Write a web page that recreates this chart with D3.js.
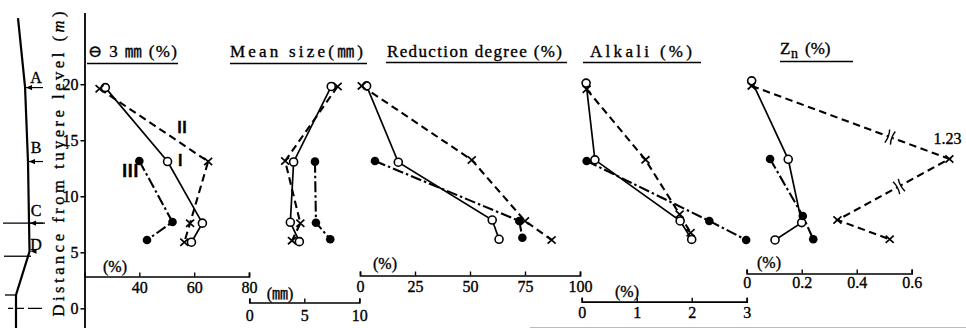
<!DOCTYPE html>
<html><head><meta charset="utf-8">
<script src="https://cdn.jsdelivr.net/npm/d3@7"></script>
<style>html,body{margin:0;padding:0;background:#fff}svg{display:block}svg text{stroke:#000;stroke-width:0.35px}</style>
</head><body>
<svg id="c" width="966" height="328"></svg>
<script>
// ---------------- data ----------------
const depthTicks = [0, 5, 10, 15, 20];            // distance from tuyere level (m)
// series: [value, depth(m)]   I = open circles / solid, II = crosses / dashed, III = filled / dash-dot
const fineI   = [[27.6,19.7],[50.3,13.1],[63.0,7.6],[59.0,5.9]];     // −3 mm (%)
const fineII  = [[25.5,19.6],[65.1,13.1],[58.5,7.6],[56.4,5.9]];
const fineIII = [[40.0,13.15],[52.1,7.7],[42.8,6.1]];
const fineTicks = [40, 60, 80];

const sizeI   = [[7.45,19.8],[4.03,13.06],[3.73,7.68],[4.55,5.95]];  // mean size (mm)
const sizeII  = [[8.03,19.8],[3.26,13.15],[4.64,7.59],[3.88,6.04]];
const sizeIII = [[5.97,13.09],[6.06,7.64],[7.36,6.16]];
const sizeTicks = [0, 5, 10];

const redI   = [[3.0,19.85],[17.4,13.04],[60.1,7.88],[63.2,6.16]];   // reduction degree (%)
const redII  = [[0.8,19.85],[50.8,13.24],[75.0,7.8],[87.1,6.1]];
const redIII = [[6.8,13.15],[72.4,7.8],[73.8,6.3]];
const redTicks = [0, 25, 50, 75, 100];

const alkI   = [[0.08,20.1],[0.24,13.25],[1.79,7.8],[2.0,6.15]];     // alkali (%)
const alkII  = [[0.09,19.55],[1.16,13.25],[1.78,8.4],[1.98,6.75]];
const alkIII = [[0.09,13.15],[2.32,7.8],[2.99,6.1]];
const alkTicks = [0, 1, 2, 3];

const znI   = [[0.018,20.3],[0.151,13.3],[0.2,7.65],[0.103,6.1]];    // Zn (%)
const znII  = [[0.018,19.85],[1.23,13.33],[0.33,7.88],[0.52,6.16]];
const znIII = [[0.085,13.33],[0.204,8.24],[0.242,6.16]];
const znTicks = [0, 0.2, 0.4, 0.6];

const zoneNames = ["A","B","C","D"];
const zoneDepths = [19.7, 13.1, 7.6, 5.1];
// schematic furnace wall: [relative wall position, depth]
const wallProfile = [[2.5,25.9],[6.9,19.76],[8.75,13.06],[9.4,7.6],[9.7,5.07],[1.25,1.19],[1.25,-1.8]];

// ---------------- drawing ----------------
const SERIF = "'Liberation Serif','DejaVu Serif',serif";
const CJK = "'Noto Sans CJK JP','Noto Sans CJK SC',sans-serif";
const svg = d3.select("#c");
const y = d3.scaleLinear().domain([-1.8, 26.4]).range([328.5, 12.5]);
const wx = d3.scaleLinear().domain([0, 10]).range([14, 30]);

// y axis
const yAxisX = 84.5;
svg.append("g").attr("transform", `translate(${yAxisX},0)`)
  .call(d3.axisLeft(y).tickValues(depthTicks).tickSize(4).tickSizeOuter(0).tickPadding(2))
  .call(g => {
    g.select(".domain").attr("stroke-width", 1.8);
    g.selectAll(".tick line").attr("stroke-width", 1.5);
    g.selectAll("text").attr("font-family", SERIF).attr("font-size", 16).attr("fill", "#000");
  });

// y axis title
const yt = svg.append("text")
  .attr("transform", `translate(64,164) rotate(-90)`)
  .attr("text-anchor", "middle").attr("font-family", SERIF).attr("font-size", 16.5)
  .attr("textLength", 305).attr("lengthAdjust", "spacing");
yt.append("tspan").text("Distance from tuyere level (");
yt.append("tspan").attr("font-style", "italic").text("m");
yt.append("tspan").text(")");

// furnace wall schematic
svg.append("path").datum(wallProfile)
  .attr("d", d3.line().x(d => wx(d[0])).y(d => y(d[1])))
  .attr("fill", "none").attr("stroke", "#000").attr("stroke-width", 2.2);
const wallAt = dep => {
  for (let i = 0; i < wallProfile.length - 1; i++) {
    const a = wallProfile[i], b = wallProfile[i + 1];
    if (dep <= a[1] && dep >= b[1]) return wx(a[0] + (b[0] - a[0]) * (a[1] - dep) / (a[1] - b[1]));
  }
  return wx(wallProfile[0][0]);
};
svg.append("line").attr("x1", 3).attr("x2", 45).attr("y1", y(7.6)).attr("y2", y(7.6)).attr("stroke", "#000").attr("stroke-width", 1.3);
svg.append("line").attr("x1", 4).attr("x2", 31).attr("y1", y(4.65)).attr("y2", y(4.65)).attr("stroke", "#000").attr("stroke-width", 1.3);
svg.append("line").attr("x1", 5).attr("x2", wx(1.25)).attr("y1", y(1.19)).attr("y2", y(1.19)).attr("stroke", "#000").attr("stroke-width", 1.3);
svg.append("line").attr("x1", 8).attr("x2", 43).attr("y1", y(0)).attr("y2", y(0)).attr("stroke", "#000").attr("stroke-width", 1.4).attr("stroke-dasharray", "5,4,7,4,14");
zoneDepths.forEach((dep, i) => {
  const yy = y(dep), x0 = wallAt(dep) + 1;
  if (i < 3) svg.append("line").attr("x1", x0).attr("x2", 43).attr("y1", yy).attr("y2", yy).attr("stroke", "#000").attr("stroke-width", 1.2);
  svg.append("path").attr("d", `M${x0},${yy} l6,-2.6 l0,5.2 z`).attr("fill", "#000");
});
const zoneLabelDepths = [20.64, 14.4, 8.78, 5.74];
zoneNames.forEach((n, i) => {
  svg.append("text").attr("x", 36).attr("y", y(zoneLabelDepths[i])).attr("dy", "0.35em")
    .attr("text-anchor", "middle").attr("font-family", SERIF).attr("font-size", 16).text(n);
});

// panels
const panels = [
  { title: "⊖ 3 ㎜ (%)", tx: 88, tw: 89, ux: [87, 178], uy: 63.5, series: [fineI, fineII, fineIII],
    domain: [20, 80], range: [84.5, 249], axisY: 276.5, ticks: fineTicks, pad: 6, unit: "(%)", unitPos: [115, 266] },
  { title: "Mean size(㎜)", tx: 230, tw: 133, ux: [230, 367], uy: 63.5, series: [sizeI, sizeII, sizeIII],
    domain: [0, 10], range: [249.3, 359.3], axisY: 302.5, ticks: sizeTicks, pad: 8, unit: "(㎜)", unitPos: [280, 293] },
  { title: "Reduction degree (%)", tx: 387, tw: 175, ux: [386, 567], uy: 62.5, series: [redI, redII, redIII],
    domain: [0, 100], range: [360, 580], axisY: 275.5, ticks: redTicks, pad: 5.5, unit: "(%)", unitPos: [385, 263] },
  { title: "Alkali (%)", tx: 590, tw: 102, ux: [583, 701], uy: 62.5, series: [alkI, alkII, alkIII],
    domain: [0, 3], range: [581.7, 746.7], axisY: 301.7, ticks: alkTicks, pad: 5.5, unit: "(%)", unitPos: [627, 291] },
  { title: null, tx: 780, ux: [780, 853], uy: 61.5, series: [znI, znII, znIII],
    domain: [0, 0.6], range: [746.7, 911.7], axisY: 273.5, ticks: znTicks, pad: 3.5, unit: "(%)", unitPos: [769, 262],
    breakShow: 0.737 }
];

const styles = [
  { dash: null, w: 1.7, mark: "open" },
  { dash: "7.5,4.5", w: 2.1, mark: "cross" },
  { dash: "11,3,2.5,3", w: 2.1, mark: "filled" }
];

panels.forEach(p => {
  const xs = d3.scaleLinear().domain(p.domain).range(p.range);
  const xv = v => (p.breakShow !== undefined && v > p.domain[1]) ? xs(p.breakShow) : xs(v);

  if (p.title) {
    svg.append("text").attr("x", p.tx).attr("y", 57).attr("font-family", `${SERIF},${CJK}`).attr("font-size", 17)
      .attr("textLength", p.tw).attr("lengthAdjust", "spacing").text(p.title);
  } else {
    svg.append("text").attr("x", 780).attr("y", 54).attr("font-family", SERIF).attr("font-size", 17).text("Z");
    svg.append("text").attr("x", 791).attr("y", 58).attr("font-family", SERIF).attr("font-size", 14).text("n");
    svg.append("text").attr("x", 805).attr("y", 54).attr("font-family", SERIF).attr("font-size", 17).text("(%)");
  }
  svg.append("line").attr("x1", p.ux[0]).attr("x2", p.ux[1]).attr("y1", p.uy).attr("y2", p.uy)
    .attr("stroke", "#000").attr("stroke-width", 1.6);

  svg.append("g").attr("transform", `translate(0,${p.axisY})`)
    .call(d3.axisBottom(xs).tickValues(p.ticks).tickSizeInner(-4).tickSizeOuter(-4).tickPadding(p.pad - 0.5)
      .tickFormat(d => d === 0 ? "0" : String(d)))
    .call(g => {
      g.select(".domain").attr("stroke-width", 1.7);
      g.selectAll(".tick line").attr("stroke-width", 1.4);
      g.selectAll("text").attr("font-family", SERIF).attr("font-size", 16).attr("fill", "#000");
    });
  svg.append("text").attr("x", p.unitPos[0]).attr("y", p.unitPos[1]).attr("dy", "0.35em").attr("text-anchor", "middle")
    .attr("font-family", `${SERIF},${CJK}`).attr("font-size", 16).text(p.unit);

  const line = d3.line().x(d => xv(d[0])).y(d => y(d[1]));
  p.series.forEach((s, i) => {
    const st = styles[i];
    svg.append("path").datum(s).attr("d", line).attr("fill", "none").attr("stroke", "#000")
      .attr("stroke-width", st.w).attr("stroke-dasharray", st.dash);
  });
  if (p.breakShow !== undefined) {
    p.series.forEach(s => {
      for (let i = 0; i < s.length - 1; i++) {
        const a = s[i], b = s[i + 1];
        const overA = a[0] > p.domain[1], overB = b[0] > p.domain[1];
        if (!overA && !overB) continue;
        const t = overB ? 0.7 : 0.45;
        const x1 = xv(a[0]), y1 = y(a[1]), x2 = xv(b[0]), y2 = y(b[1]);
        const px = x1 + (x2 - x1) * t, py = y1 + (y2 - y1) * t;
        const ang = Math.atan2(y2 - y1, x2 - x1) * 180 / Math.PI;
        const g = svg.append("g").attr("transform", `translate(${px},${py}) rotate(${ang})`);
        g.append("rect").attr("x", -2.2).attr("y", -3).attr("width", 4.4).attr("height", 6).attr("fill", "#fff");
        g.append("path").attr("d", "M-3,-7 Q-0.8,0 -3,7 M3,-7 Q0.8,0 3,7")
          .attr("fill", "none").attr("stroke", "#000").attr("stroke-width", 1.4);
      }
      s.forEach(d => {
        if (d[0] > p.domain[1]) {
          svg.append("text").attr("x", xv(d[0]) - 2).attr("y", y(d[1]) - 15).attr("text-anchor", "middle")
            .attr("font-family", SERIF).attr("font-size", 16).text(String(d[0]));
        }
      });
    });
  }
  p.series.forEach((s, i) => {
    const st = styles[i];
    s.forEach(d => {
      const cx = xv(d[0]), cy = y(d[1]);
      if (st.mark === "open") {
        svg.append("circle").attr("cx", cx).attr("cy", cy).attr("r", 4).attr("fill", "#fff").attr("stroke", "#000").attr("stroke-width", 1.6);
      } else if (st.mark === "filled") {
        svg.append("circle").attr("cx", cx).attr("cy", cy).attr("r", 4.3).attr("fill", "#000");
      } else {
        svg.append("path").attr("transform", `translate(${cx},${cy})`).attr("d", "M-4,-3.6L4,3.6M-4,3.6L4,-3.6")
          .attr("stroke", "#000").attr("stroke-width", 1.7);
      }
    });
  });

  if (p.series[0] === fineI) {
    const lab = [["Ⅱ", 55.6, 16.1, 15], ["Ⅰ", 54.9, 13.2, 15], ["Ⅲ", 36.7, 12.3, 17]];
    lab.forEach(l => {
      svg.append("text").attr("x", xs(l[1])).attr("y", y(l[2])).attr("dy", "0.36em").attr("text-anchor", "middle")
        .attr("font-family", CJK).attr("font-weight", "bold").attr("font-size", l[3]).text(l[0]);
    });
  }
});

svg.append("line").attr("x1", 530).attr("x2", 966).attr("y1", 327.5).attr("y2", 327.5).attr("stroke", "#bbb").attr("stroke-width", 1);
</script>
</body></html>
